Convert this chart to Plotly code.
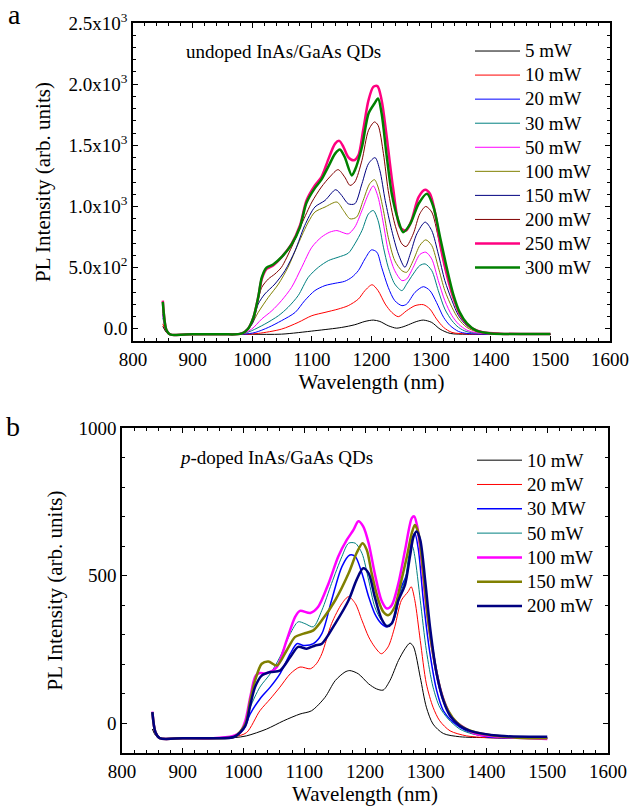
import plotly.graph_objects as go

# ---------------- Panel a: undoped InAs/GaAs QDs ----------------
a_labels = ["5 mW", "10 mW", "20 mW", "30 mW", "50 mW", "100 mW", "150 mW", "200 mW", "250 mW", "300 mW"]
a_colors = ["#000000", "#FF0000", "#0000FF", "#008080", "#FF00FF", "#808000", "#000080", "#800000", "#FF0080", "#008000"]
a_widths = [1, 1, 1, 1, 1, 1, 1, 1, 2.5, 2.5]

a_wl_5 = [850, 856, 862, 900, 950, 1000, 1049, 1105, 1150, 1172, 1189, 1203, 1214, 1228, 1242, 1253, 1262, 1276, 1287, 1301, 1315, 1332, 1360, 1400, 1450, 1500]
a_pl_5 = [20, -30, -45, -45, -45, -45, -44, -16, 11, 33, 60, 71, 60, 25, 5, 16, 33, 60, 71, 52, -3, -38, -45, -45, -45, -45]

a_wl_10 = [850, 856, 862, 900, 950, 990, 1010, 1049, 1077, 1100, 1122, 1144, 1161, 1178, 1189, 1201, 1211, 1223, 1234, 1245, 1259, 1273, 1287, 1298, 1309, 1321, 1335, 1360, 1400, 1450, 1500]
a_pl_10 = [40, -25, -45, -45, -45, -45, -38, -3, 52, 107, 134, 161, 189, 243, 312, 360, 312, 202, 134, 99, 148, 189, 197, 161, 80, 11, -30, -42, -45, -45, -45]

a_wl_20 = [850, 856, 862, 900, 950, 985, 1005, 1027, 1049, 1072, 1088, 1105, 1122, 1139, 1155, 1167, 1178, 1189, 1200, 1209, 1217, 1228, 1239, 1251, 1259, 1273, 1287, 1298, 1309, 1321, 1332, 1346, 1360, 1400, 1450, 1500]
a_pl_20 = [120, -20, -45, -45, -45, -45, -30, 11, 66, 134, 230, 312, 353, 372, 388, 421, 476, 571, 645, 626, 503, 339, 230, 189, 202, 298, 344, 312, 216, 93, 25, -22, -38, -45, -45, -45]

a_wl_30 = [850, 856, 862, 900, 950, 985, 999, 1021, 1044, 1060, 1077, 1094, 1111, 1128, 1144, 1161, 1172, 1184, 1195, 1203, 1211, 1220, 1228, 1239, 1251, 1259, 1270, 1281, 1290, 1301, 1312, 1323, 1335, 1346, 1360, 1400, 1450, 1500]
a_pl_30 = [90, -15, -45, -45, -45, -40, -16, 38, 107, 175, 271, 421, 503, 558, 585, 618, 694, 803, 940, 967, 885, 667, 503, 366, 312, 366, 448, 517, 530, 476, 312, 161, 66, 11, -24, -42, -45, -45]

a_wl_50 = [850, 856, 862, 900, 950, 985, 999, 1016, 1033, 1049, 1066, 1083, 1100, 1116, 1130, 1142, 1150, 1161, 1172, 1184, 1195, 1203, 1211, 1220, 1228, 1239, 1251, 1259, 1270, 1281, 1291, 1301, 1312, 1323, 1335, 1346, 1360, 1376, 1400, 1450, 1500]
a_pl_50 = [110, -15, -45, -45, -45, -38, -3, 80, 148, 230, 339, 503, 667, 749, 790, 803, 790, 776, 831, 967, 1104, 1168, 1077, 858, 640, 475, 394, 407, 503, 607, 626, 571, 394, 230, 107, 38, -11, -33, -42, -45, -45]

a_wl_100 = [850, 856, 862, 900, 950, 985, 999, 1010, 1027, 1044, 1060, 1077, 1094, 1105, 1122, 1142, 1153, 1164, 1175, 1186, 1197, 1205, 1211, 1220, 1228, 1239, 1251, 1259, 1270, 1281, 1291, 1301, 1312, 1323, 1335, 1346, 1360, 1376, 1400, 1450, 1500]
a_pl_100 = [140, -10, -45, -45, -45, -35, 38, 134, 257, 366, 503, 694, 872, 954, 995, 1036, 967, 899, 913, 1049, 1186, 1219, 1159, 967, 749, 557, 475, 462, 558, 681, 727, 681, 503, 312, 175, 80, 11, -24, -40, -45, -45]

a_wl_150 = [850, 856, 862, 900, 950, 985, 1000, 1010, 1021, 1038, 1055, 1072, 1088, 1105, 1122, 1140, 1150, 1161, 1172, 1184, 1195, 1206, 1214, 1223, 1234, 1245, 1256, 1265, 1276, 1290, 1301, 1312, 1323, 1335, 1346, 1360, 1376, 1400, 1450, 1500]
a_pl_150 = [160, -10, -45, -45, -45, -30, 40, 202, 284, 366, 476, 640, 844, 995, 1049, 1137, 1090, 1022, 1022, 1186, 1350, 1399, 1295, 1049, 803, 612, 503, 612, 776, 872, 803, 612, 394, 230, 107, 25, -16, -38, -45, -45]

a_wl_200 = [850, 856, 862, 900, 950, 985, 1000, 1008, 1016, 1027, 1038, 1049, 1066, 1083, 1100, 1116, 1130, 1144, 1155, 1164, 1172, 1184, 1195, 1205, 1211, 1220, 1228, 1239, 1251, 1258, 1270, 1281, 1291, 1301, 1312, 1323, 1335, 1346, 1360, 1376, 1400, 1450, 1500]
a_pl_200 = [190, -10, -45, -45, -45, -30, 50, 200, 339, 407, 448, 503, 667, 858, 1036, 1159, 1241, 1301, 1241, 1172, 1200, 1377, 1623, 1691, 1664, 1432, 1131, 858, 694, 672, 776, 940, 1000, 954, 749, 503, 298, 148, 38, -16, -38, -45, -45]

a_wl_250 = [850, 856, 862, 900, 950, 982, 993, 1002, 1010, 1016, 1024, 1035, 1049, 1066, 1080, 1091, 1105, 1116, 1128, 1139, 1146, 1153, 1161, 1170, 1178, 1186, 1195, 1203, 1210, 1217, 1225, 1236, 1248, 1258, 1267, 1279, 1290, 1298, 1307, 1315, 1326, 1337, 1348, 1360, 1371, 1388, 1416, 1450, 1500]
a_pl_250 = [230, -10, -45, -45, -45, -40, 0, 93, 257, 407, 489, 517, 585, 694, 844, 1049, 1172, 1240, 1391, 1514, 1536, 1486, 1404, 1377, 1418, 1623, 1869, 1978, 1984, 1869, 1590, 1159, 831, 803, 885, 1077, 1137, 1104, 940, 694, 448, 257, 120, 38, -3, -30, -40, -43, -43]

a_wl_300 = [850, 856, 862, 900, 950, 982, 993, 1002, 1010, 1016, 1024, 1035, 1049, 1066, 1080, 1091, 1105, 1116, 1128, 1139, 1147, 1155, 1167, 1172, 1184, 1195, 1205, 1211, 1217, 1225, 1234, 1245, 1253, 1265, 1279, 1293, 1304, 1315, 1326, 1337, 1348, 1360, 1376, 1400, 1450, 1500]
a_pl_300 = [220, -10, -45, -45, -45, -40, 0, 93, 257, 420, 500, 525, 585, 690, 830, 1030, 1150, 1220, 1330, 1432, 1465, 1404, 1254, 1295, 1486, 1760, 1842, 1883, 1760, 1432, 1104, 885, 790, 858, 1022, 1104, 995, 749, 503, 284, 134, 44, -16, -38, -43, -43]

a_wl = [a_wl_5, a_wl_10, a_wl_20, a_wl_30, a_wl_50, a_wl_100, a_wl_150, a_wl_200, a_wl_250, a_wl_300]
a_pl = [a_pl_5, a_pl_10, a_pl_20, a_pl_30, a_pl_50, a_pl_100, a_pl_150, a_pl_200, a_pl_250, a_pl_300]

a_ytickvals = [0, 500, 1000, 1500, 2000, 2500]
a_yticktext = ["0.0", "5.0x10<sup>2</sup>", "1.0x10<sup>3</sup>", "1.5x10<sup>3</sup>", "2.0x10<sup>3</sup>", "2.5x10<sup>3</sup>"]

# ---------------- Panel b: p-doped InAs/GaAs QDs ----------------
b_labels = ["10 mW", "20 mW", "30 MW", "50 mW", "100 mW", "150 mW", "200 mW"]
b_colors = ["#000000", "#FF0000", "#0000FF", "#008080", "#FF00FF", "#808000", "#000080"]
b_widths = [1, 1, 1.5, 1, 2.5, 2.5, 2.5]

b_wl_10 = [850, 855, 862, 900, 950, 985, 1005, 1038, 1066, 1093, 1112, 1134, 1151, 1167, 1175, 1189, 1206, 1219, 1230, 1241, 1255, 1266, 1274, 1280, 1291, 1301, 1312, 1329, 1356, 1400, 1450, 1500]
b_pl_10 = [-19, -40, -50, -50, -50, -48, -42, -19, 9, 32, 43, 88, 145, 174, 179, 168, 134, 117, 113, 145, 213, 253, 272, 259, 156, 55, -2, -34, -45, -48, -50, -50]

b_wl_20 = [850, 855, 862, 900, 950, 985, 1005, 1027, 1044, 1060, 1077, 1093, 1110, 1120, 1129, 1145, 1162, 1173, 1184, 1195, 1206, 1216, 1227, 1238, 1249, 1260, 1271, 1276, 1282, 1291, 1301, 1312, 1323, 1340, 1367, 1400, 1450, 1500]
b_pl_20 = [30, -30, -50, -50, -50, -45, -31, 43, 83, 123, 168, 191, 185, 202, 236, 338, 406, 429, 406, 349, 293, 259, 236, 259, 327, 417, 446, 463, 417, 281, 134, 55, 9, -25, -42, -48, -50, -50]

b_wl_30 = [850, 855, 862, 900, 950, 985, 1000, 1011, 1027, 1044, 1060, 1077, 1088, 1099, 1115, 1129, 1145, 1162, 1175, 1184, 1195, 1206, 1216, 1227, 1236, 1247, 1258, 1269, 1277, 1282, 1288, 1296, 1307, 1318, 1329, 1345, 1367, 1400, 1450, 1500]
b_pl_30 = [35, -30, -50, -50, -50, -45, -20, 32, 83, 123, 168, 236, 270, 264, 270, 304, 417, 531, 570, 565, 508, 429, 372, 338, 327, 349, 451, 508, 621, 644, 587, 417, 236, 111, 43, 4, -25, -45, -50, -50]

b_wl_50 = [850, 855, 862, 900, 950, 985, 1000, 1011, 1027, 1044, 1060, 1077, 1090, 1101, 1115, 1129, 1145, 1162, 1173, 1184, 1195, 1206, 1216, 1227, 1236, 1247, 1258, 1266, 1274, 1278, 1282, 1291, 1301, 1312, 1323, 1337, 1356, 1378, 1420, 1500]
b_pl_50 = [35, -30, -50, -50, -50, -45, -15, 54, 123, 168, 225, 304, 344, 338, 327, 383, 474, 565, 610, 610, 576, 485, 395, 349, 332, 349, 440, 485, 587, 599, 565, 417, 247, 123, 55, 15, -19, -36, -45, -50]

b_wl_100 = [850, 855, 862, 900, 950, 983, 994, 1003, 1011, 1019, 1025, 1038, 1055, 1071, 1085, 1093, 1110, 1123, 1140, 1156, 1170, 1181, 1189, 1197, 1206, 1216, 1227, 1236, 1244, 1255, 1266, 1277, 1281, 1286, 1293, 1301, 1312, 1323, 1334, 1345, 1362, 1384, 1422, 1500]
b_pl_100 = [40, -30, -50, -50, -50, -42, -31, 9, 88, 157, 170, 170, 191, 281, 361, 381, 374, 395, 474, 565, 621, 655, 684, 667, 610, 508, 417, 389, 400, 474, 587, 695, 701, 667, 553, 395, 236, 123, 55, 15, -13, -36, -45, -53]

b_wl_150 = [850, 855, 862, 900, 950, 985, 1003, 1011, 1019, 1030, 1041, 1055, 1071, 1085, 1099, 1115, 1129, 1151, 1173, 1186, 1196, 1203, 1211, 1222, 1230, 1238, 1249, 1260, 1269, 1277, 1282, 1288, 1296, 1304, 1315, 1326, 1337, 1351, 1367, 1395, 1450, 1500]
b_pl_150 = [38, -30, -50, -50, -50, -45, -2, 77, 145, 202, 210, 196, 247, 293, 304, 315, 349, 417, 508, 576, 610, 587, 508, 417, 378, 366, 395, 485, 565, 644, 672, 644, 508, 349, 202, 100, 43, 4, -19, -36, -48, -50]

b_wl_200 = [850, 855, 862, 900, 950, 985, 1003, 1011, 1019, 1030, 1044, 1060, 1077, 1090, 1104, 1118, 1129, 1151, 1173, 1186, 1197, 1206, 1216, 1227, 1236, 1244, 1255, 1266, 1274, 1280, 1285, 1291, 1299, 1307, 1318, 1329, 1340, 1356, 1373, 1422, 1500]
b_pl_200 = [38, -30, -50, -50, -50, -45, -8, 60, 123, 162, 174, 179, 225, 259, 253, 264, 270, 338, 417, 485, 525, 508, 429, 355, 329, 338, 417, 470, 565, 633, 650, 621, 485, 327, 168, 77, 26, -8, -25, -42, -45]

b_wl = [b_wl_10, b_wl_20, b_wl_30, b_wl_50, b_wl_100, b_wl_150, b_wl_200]
b_pl = [b_pl_10, b_pl_20, b_pl_30, b_pl_50, b_pl_100, b_pl_150, b_pl_200]

for w, p in zip(a_wl + b_wl, a_pl + b_pl):
    assert len(w) == len(p), (len(w), len(p), w[:3])

FONT = "Liberation Serif, Times New Roman, serif"
LEG_TEXT = "<span style='font-size:19px'>{}</span>"

fig = go.Figure()
for lab, col, lw, w, p in zip(a_labels, a_colors, a_widths, a_wl, a_pl):
    fig.add_trace(go.Scatter(x=w, y=p, mode="lines", name=LEG_TEXT.format(lab), xaxis="x", yaxis="y",
                             line=dict(color=col, width=lw, shape="spline", smoothing=0.8),
                             legend="legend"))
for lab, col, lw, w, p in zip(b_labels, b_colors, b_widths, b_wl, b_pl):
    fig.add_trace(go.Scatter(x=w, y=p, mode="lines", name=LEG_TEXT.format(lab), xaxis="x2", yaxis="y2",
                             line=dict(color=col, width=lw, shape="spline", smoothing=0.8),
                             legend="legend2"))

W, H = 632, 811
def px(x): return x / W
def py(y): return 1 - y / H

axis_common = dict(showline=True, linecolor="black", linewidth=1.5, mirror="ticks",
                   ticks="inside", ticklen=5, tickwidth=1.2, tickcolor="black",
                   showgrid=False, zeroline=False, automargin=False,
                   tickfont=dict(family=FONT, size=19, color="black"))

xa = dict(axis_common, range=[800, 1600], tick0=800, dtick=100,
          minor=dict(ticks="inside", dtick=20, tick0=800, ticklen=3, tickwidth=1, tickcolor="black"),
          title=dict(text="Wavelength (nm)", font=dict(family=FONT, size=21, color="black"), standoff=6))

def note(text, x, y, size):
    return dict(text=text, x=px(x), y=py(y), xref="paper", yref="paper", xanchor="center",
                yanchor="middle", showarrow=False, font=dict(family=FONT, size=size, color="black"))

fig.update_layout(
    width=W, height=H, margin=dict(l=0, r=0, t=0, b=0, autoexpand=False), autosize=False,
    paper_bgcolor="white", plot_bgcolor="white",
    xaxis=dict(xa, domain=[px(133), px(610)], anchor="y"),
    yaxis=dict(axis_common, domain=[py(341), py(23)], anchor="x", range=[-100, 2500],
               tickmode="array", tickvals=a_ytickvals, ticktext=a_yticktext,
               minor=dict(ticks="inside", dtick=100, tick0=0, ticklen=3, tickwidth=1, tickcolor="black"),
               title=dict(text="PL Intensity (arb. units)", font=dict(family=FONT, size=21, color="black"), standoff=12)),
    xaxis2=dict(xa, domain=[px(122), px(608)], anchor="y2"),
    yaxis2=dict(axis_common, domain=[py(753), py(428)], anchor="x2", range=[-100, 1000],
                tick0=0, dtick=500,
                minor=dict(ticks="inside", dtick=100, tick0=0, ticklen=3, tickwidth=1, tickcolor="black"),
                title=dict(text="PL Intensity (arb. units)", font=dict(family=FONT, size=21, color="black"), standoff=10)),
    legend=dict(x=px(470), y=py(34), xanchor="left", yanchor="top", bgcolor="rgba(0,0,0,0)",
                font=dict(family=FONT, size=16.2, color="black"), itemwidth=45, tracegroupgap=0),
    legend2=dict(x=px(472), y=py(443), xanchor="left", yanchor="top", bgcolor="rgba(0,0,0,0)",
                 font=dict(family=FONT, size=16.4, color="black"), itemwidth=45, tracegroupgap=0),
    annotations=[
        note("undoped InAs/GaAs QDs", 283, 51, 19),
        note("<i>p</i>-doped InAs/GaAs QDs", 276, 457, 19),
        note("a", 14, 14, 28),
        note("b", 13, 426, 28),
    ],
)

fig.write_html("out.html", config={"displayModeBar": False},
               post_script="document.body.style.margin='0px';document.body.style.overflow='hidden';")
